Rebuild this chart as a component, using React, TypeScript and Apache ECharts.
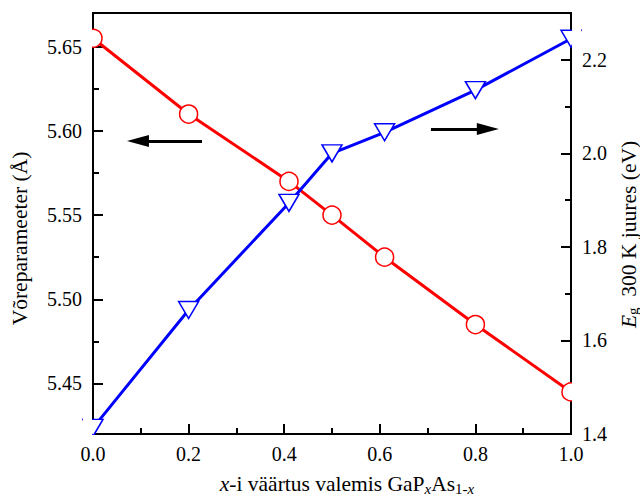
import React, { useEffect, useRef } from "react";
import * as echarts from "echarts";

const xValues = [0, 0.2, 0.41, 0.5, 0.61, 0.8, 1.0];
const latticeConst = [5.655, 5.61, 5.57, 5.55, 5.525, 5.485, 5.445];
const bandGap = [1.413, 1.665, 1.894, 2.0, 2.045, 2.135, 2.245];

const leftMajorTicks = [5.45, 5.5, 5.55, 5.6, 5.65];
const leftMinorTicks = [5.475, 5.525, 5.575, 5.625];
const rightMajorTicks = [1.4, 1.6, 1.8, 2.0, 2.2];
const rightMinorTicks = [1.5, 1.7, 1.9, 2.1];

const leftArrow = { from: [0.228, 5.594], to: [0.094, 5.594] };
const rightArrow = { from: [0.707, 2.052], to: [0.826, 2.052] };

const FONT = "'Liberation Serif', serif";
const TITLE_SIZE = 21.5;

const W = 640, H = 500;
const GRID = { left: 93, right: 69, top: 13, bottom: 66 };

export default function App() {
  const ref = useRef<HTMLDivElement>(null);
  useEffect(() => {
    if (!ref.current) return;
    const chart = echarts.init(ref.current, null, { renderer: "svg" });
    const axisLine = { show: true, lineStyle: { color: "#000", width: 2 } };
    const labelStyle = { color: "#000", fontFamily: FONT, fontSize: 20 };
    const titleStyle = { color: "#000", fontFamily: FONT, fontSize: TITLE_SIZE };
    const tickRich = { t: { fontFamily: FONT, fontSize: 20, color: "#000" } };

    // white masks just outside the plot frame so markers look clipped by the frame
    const L = GRID.left, R = W - GRID.right, T = GRID.top, B = H - GRID.bottom;
    const t = 9;
    const mask = (x: number, y: number, w: number, h: number) => ({
      type: "rect", z: 50, silent: true, shape: { x, y, width: w, height: h }, style: { fill: "#fff" },
    });

    chart.setOption({
      animation: false,
      backgroundColor: "#fff",
      textStyle: { fontFamily: FONT, color: "#000" },
      grid: {
        ...GRID,
        show: true,
        borderColor: "#000",
        borderWidth: 2,
        containLabel: false,
        outerBoundsMode: "none",
      },
      graphic: {
        elements: [
          mask(L - 1 - t, T - 1 - t, t, B - T + 2 + 2 * t),
          mask(R + 1, T - 1 - t, t, B - T + 2 + 2 * t),
          mask(L - 1, T - 1 - t, R - L + 2, t),
          mask(L - 1, B + 1, R - L + 2, t),
        ],
      },
      xAxis: {
        type: "value",
        min: 0,
        max: 1,
        interval: 0.2,
        axisLine: { ...axisLine, onZero: false },
        axisTick: { inside: true, length: 10, lineStyle: { width: 2, color: "#000" } },
        minorTick: { show: true, splitNumber: 2, length: 6, lineStyle: { width: 2, color: "#000" } },
        splitLine: { show: false },
        axisLabel: { ...labelStyle, margin: 10, rich: tickRich, formatter: (v: number) => `{t|${v.toFixed(1)}}` },
        name: "{i|x}-i väärtus valemis GaP{si|x}As{s|1-}{si|x}",
        nameLocation: "middle",
        nameGap: 37,
        nameTextStyle: {
          ...titleStyle,
          padding: [0, 0, 0, 30],
          rich: {
            i: { fontFamily: FONT, fontSize: TITLE_SIZE, fontStyle: "italic", color: "#000" },
            s: { fontFamily: FONT, fontSize: 15, color: "#000", padding: [10, 0, 0, 0] },
            si: { fontFamily: FONT, fontSize: 15, fontStyle: "italic", color: "#000", padding: [10, 0, 0, 0] },
          },
        },
      },
      yAxis: [
        {
          type: "value",
          position: "left",
          min: 5.42,
          max: 5.67,
          axisLine,
          axisTick: { inside: true, length: 10, customValues: leftMajorTicks, lineStyle: { width: 2, color: "#000" } },
          axisLabel: { ...labelStyle, margin: 11, customValues: leftMajorTicks, rich: tickRich, formatter: (v: number) => `{t|${v.toFixed(2)}}` },
          splitLine: { show: false },
          name: "Võreparameeter (Å)",
          nameLocation: "middle",
          nameRotate: 90,
          nameGap: 62,
          nameTextStyle: { ...titleStyle, padding: [0, 30, 0, 0] },
        },
        {
          type: "value",
          position: "right",
          min: 1.4,
          max: 2.3,
          axisLine,
          axisTick: { inside: true, length: 10, customValues: rightMajorTicks, lineStyle: { width: 2, color: "#000" } },
          axisLabel: { ...labelStyle, margin: 11, customValues: rightMajorTicks, rich: tickRich, formatter: (v: number) => `{t|${v.toFixed(1)}}` },
          splitLine: { show: false },
          name: "{i|E}{s|g}  300 K juures (eV)",
          nameLocation: "middle",
          nameRotate: 90,
          nameGap: 36,
          nameTextStyle: {
            ...titleStyle,
            padding: [0, 22, 0, 0],
            rich: {
              i: { fontFamily: FONT, fontSize: TITLE_SIZE, fontStyle: "italic", color: "#000" },
              s: { fontFamily: FONT, fontSize: 15, color: "#000", padding: [8, 0, 0, 0] },
            },
          },
        },
        {
          type: "value",
          position: "left",
          min: 5.42,
          max: 5.67,
          axisLine: { show: false },
          axisTick: { inside: true, length: 6, customValues: leftMinorTicks, lineStyle: { width: 2, color: "#000" } },
          axisLabel: { show: false },
          splitLine: { show: false },
        },
        {
          type: "value",
          position: "right",
          min: 1.4,
          max: 2.3,
          axisLine: { show: false },
          axisTick: { inside: true, length: 6, customValues: rightMinorTicks, lineStyle: { width: 2, color: "#000" } },
          axisLabel: { show: false },
          splitLine: { show: false },
        },
      ],
      series: [
        {
          type: "line",
          yAxisIndex: 0,
          data: xValues.map((x, i) => [x, latticeConst[i]]),
          lineStyle: { color: "#ff0000", width: 3 },
          symbol: "circle",
          symbolSize: 18,
          itemStyle: { color: "#fff", borderColor: "#ff0000", borderWidth: 1.5 },
          emphasis: { disabled: true },
          markLine: {
            silent: true,
            symbol: ["none", "triangle"],
            symbolSize: [12, 22],
            label: { show: false },
            lineStyle: { color: "#000", width: 3, type: "solid" },
            data: [[{ coord: leftArrow.from }, { coord: leftArrow.to }]],
          },
        },
        {
          type: "line",
          yAxisIndex: 1,
          data: xValues.map((x, i) => [x, bandGap[i]]),
          lineStyle: { color: "#0000ff", width: 3 },
          symbol: "triangle",
          symbolRotate: 180,
          symbolSize: [20, 17],
          itemStyle: { color: "#fff", borderColor: "#0000ff", borderWidth: 1.5 },
          emphasis: { disabled: true },
          markLine: {
            silent: true,
            symbol: ["none", "triangle"],
            symbolSize: [12, 22],
            label: { show: false },
            lineStyle: { color: "#000", width: 3, type: "solid" },
            data: [[{ coord: rightArrow.from }, { coord: rightArrow.to }]],
          },
        },
      ],
    });
    return () => chart.dispose();
  }, []);
  return <div ref={ref} style={{ position: "fixed", left: 0, top: 0, width: W, height: H }} />;
}
